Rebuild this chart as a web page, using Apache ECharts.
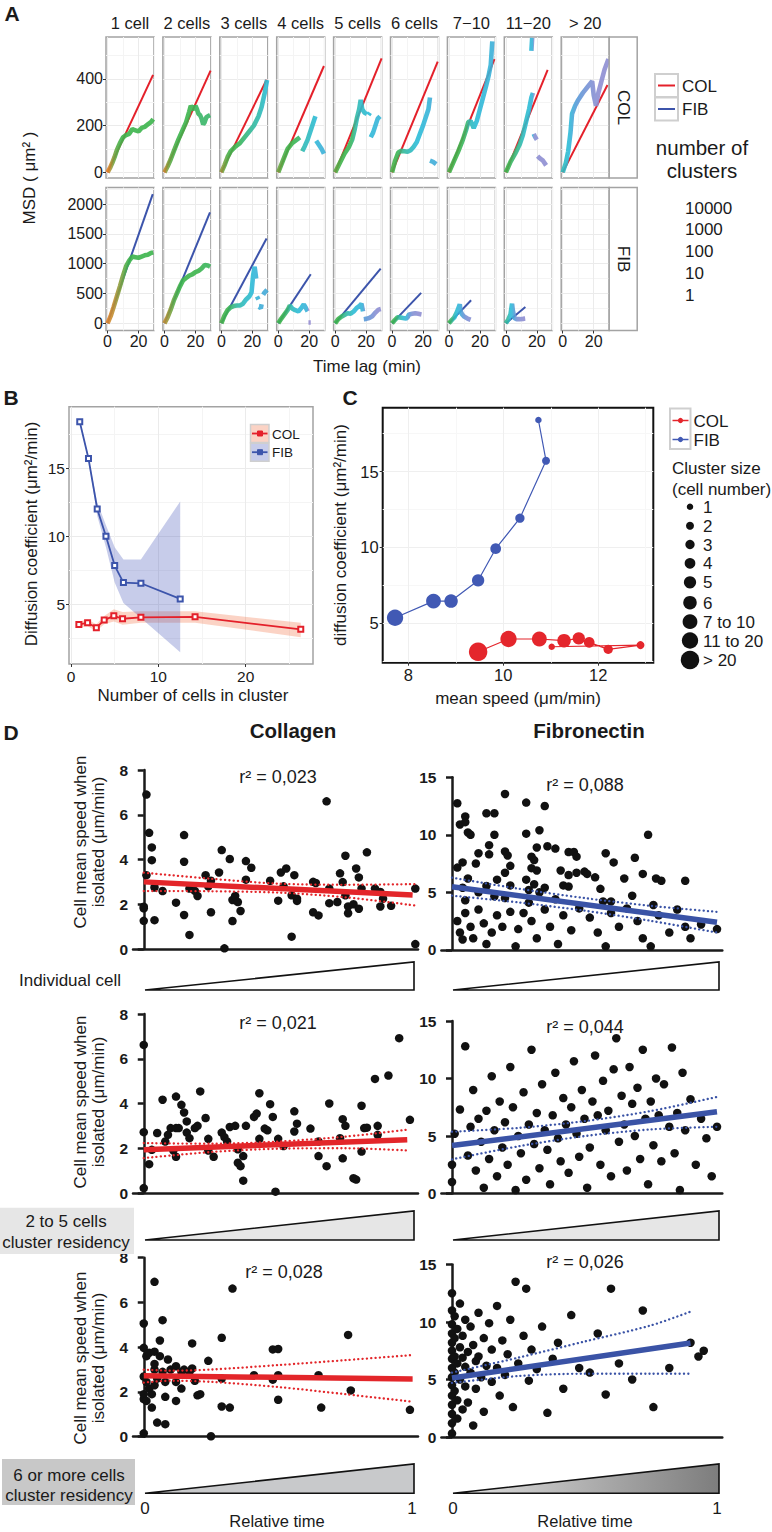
<!DOCTYPE html>
<html>
<head>
<meta charset="utf-8">
<script src="https://cdn.jsdelivr.net/npm/echarts@6/dist/echarts.min.js"></script>
<style>html,body{margin:0;padding:0;background:#fff}#chart{width:772px;height:1532px}</style>
</head>
<body>
<div id="chart"></div>
<script>
// ================= DATA =================
// ---- Panel A : MSD vs time lag, faceted by cluster size
const facetLabels = ['1 cell','2 cells','3 cells','4 cells','5 cells','6 cells','7\u221210','11\u221220','> 20'];
const substrateLabels = ['COL','FIB'];
const clusterCountLabels = ['10000','1000','100','10','1'];
const aXTicks = [0, 20];
const aXMinor = [10, 30];
const aColYTicks = [0, 200, 400];
const aColYMinor = [100, 300, 500];
const aFibYTicks = [0, 500, 1000, 1500, 2000];
const aFibYMinor = [250, 750, 1250, 1750, 2250];
// linear fit end points (fit lines start at origin) [time lag, MSD]
const colFitEnd = [[29.4,417],[29.8,435],[29.2,396],[29.5,455],[30,488],[29.5,474],[29.4,484],[27,438],[28.9,374]];
const fibFitEnd = [[29.2,2168],[29.4,1860],[29.2,1423],[21,823],[29.4,919],[18.8,510],[14.3,387],[12.6,275],null];
// MSD curves: [time lag (min), MSD (um^2), log10(number of clusters)] ; null = gap
const colMSD = [
  [[0,0,4],[1.5,18,3.8],[3,40,3.5],[4.5,65,3.3],[6,95,3.15],[8,125,3.05],[10,150,3],[12,160,3],[14,165,3],[16,185,3],[18,180,3],[20,175,3],[22,190,3],[24,195,3],[26,205,3],[28,215,3],[29.5,228,3]],
  [[0,0,3.8],[2,25,3.4],[4,55,3.2],[6,90,3.1],[9,140,3],[12,185,3],[14,215,3],[16,260,3],[17,285,3],[18,275,2.95],[19,268,2.95],[20,285,2.9],[21,270,2.9],[22,250,2.85],[23,245,2.8],[24,230,2.8],[25,205,2.8],[26,215,2.8],[27,235,2.8],[28,240,2.8],[29.5,245,2.8]],
  [[0,0,3.5],[2,30,3.3],[4,65,3.1],[6,90,3],[9,110,3],[12,125,2.9],[15,150,2.7],[18,175,2.5],[21,200,2.4],[24,240,2.3],[26,280,2.2],[28,340,2.1],[29.5,395,2]],
  [[0,0,3.3],[3,50,3.1],[6,100,3],[9,125,3],[12,140,2.9],[14,150,2.7],null,[15.5,90,2.3],[17,110,2.2],[19,140,2.2],[21,180,2.1],[22.5,210,2.1],[24,240,2],null,[24.5,135,1.8],[26,120,1.8],[28,100,1.7],[29.5,80,1.7]],
  [[0,0,3.2],[3,40,3.05],[6,80,3],[9,110,2.9],[11,140,2.8],[12.5,180,2.5],[14,230,2.3],[15.5,270,2.2],[16.5,310,2.1],[17.5,270,2.1],[19,255,2.1],[20.5,250,2],null,[21.5,245,2],[22.5,255,2],null,[23,150,1.9],[24.5,170,1.9],[26,200,1.8],[27.5,230,1.8],[29,240,1.8]],
  [[0,0,3.1],[2,50,3],[4,85,2.9],[6,92,2.6],[8,90,2.4],[10,88,2.3],[12,95,2.2],[14,110,2.1],[16,130,2],[18,165,2],[20,200,1.9],[22,240,1.8],[23.5,270,1.8],[24.5,320,1.7],null,[24.5,50,1.6],[26.5,45,1.6],[28.5,35,1.5]],
  [[0,0,3.1],[3,45,3],[6,90,3],[9,140,2.9],[11,180,2.8],[12.5,215,2.4],[14,220,2.2],[16,190,2.1],[18,220,2],[20,270,1.9],[22,320,1.9],[24,370,1.8],[25.5,410,1.8],[27,460,1.7],[27.5,510,1.7],[28,560,1.6]],
  [[0,0,3],[3,45,2.9],[6,80,2.7],[9,120,2.4],[11,160,2.2],[13,215,2.1],[15,270,2],[16.5,320,1.9],[17.5,340,1.9],null,[16.5,520,1.7],[17,575,1.7],null,[18,165,0.4],[19,150,0.4],[20,140,0.4],null,[20.5,70,0.3],[22,60,0.3],[24,50,0.3],[26,30,0.3]],
  [[0,0,2.2],[2,40,2.1],[3.5,90,2],[5,170,1.8],[6,250,1.6],[8,285,1.2],[10,310,1],[13,340,0.8],[16,365,0.6],[19,390,0.5],[20,330,0.4],[21.5,285,0.4],[23,340,0.3],[25,390,0.3],[27,440,0.3],[29.5,485,0.3]]
];
const fibMSD = [
  [[0,0,4],[2,120,3.9],[4,280,3.8],[6,450,3.6],[8,620,3.45],[10,800,3.3],[12,960,3.1],[14,1050,3],[16,1120,3],[18,1110,3],[20,1100,3],[22,1120,3],[24,1140,3],[26,1150,3],[28,1180,3],[29.5,1190,3]],
  [[0,0,3.8],[2,100,3.6],[4,230,3.4],[6,380,3.2],[8,500,3.1],[10,620,3],[12,720,3],[14,760,3],[16,800,3],[18,820,3],[20,860,3],[22,880,3],[24,920,2.95],[26,980,2.9],[28,970,2.9],[29.5,950,2.9]],
  [[0,0,3.1],[2,130,3],[4,220,3],[6,270,2.8],[8,290,2.6],[10,300,2.4],[12,300,2.3],[14,330,2.2],[16,400,2.1],[18,450,2.1],[19.5,520,2],[20.5,800,1.9],[21.5,950,1.8],[22.5,750,1.8],null,[23,450,1.7],[24,400,1.7],null,[24.5,280,1.6],[25.5,250,1.6],[26,320,1.6],null,[27,480,1.5],[28,520,1.5],[29.5,560,1.5]],
  [[0,0,3],[2,80,3],[4,150,2.9],[6,220,2.7],[7.5,300,2.4],[9,250,2.2],[11,220,2.1],[13,200,2],[15,260,1.9],[16.5,320,1.8],[18,250,1.7],[19,200,1.6],null,[19.5,15,0.2],[21,15,0.2]],
  [[0,0,3],[2,70,3],[4,110,2.8],[6,140,2.5],[8,170,2.3],[10,160,2.2],[12,200,2],[14,260,1.9],[16,300,1.8],[17,330,1.8],[18,200,1.7],null,[18.5,70,1.1],[20,75,1],[22,90,0.8],[24,120,0.6],[26,180,0.4],[28,230,0.3],[29.5,240,0.3]],
  [[0,0,3],[2,60,2.9],[3.5,100,2.6],[5,100,2.3],[7,90,2.1],[9,80,1.8],[10,100,1.5],[11,150,1],[13,160,0.5],[15,170,0.4],[17,160,0.3],[19,150,0.3]],
  [[0,0,3],[2,60,2.6],[3.5,100,2.2],[5,180,2],[6,250,1.8],[7,320,1.7],[7.5,200,1.5],[8.5,150,1.2],[10,110,0.8],[12,80,0.5],[14,60,0.4]],
  [[0,0,2.5],[1.5,60,2.3],[3,150,2],[4,330,1.8],[4.5,220,1.6],[5.5,90,1.2],[7,70,0.6],[9,70,0.4],[11,75,0.3],[12.5,80,0.3]],
  []
];

// ---- Panel B : diffusion coefficient vs number of cells in cluster
const bXTicks = [0, 10, 20], bXMinor = [5, 15, 25];
const bYTicks = [5, 10, 15], bYMinor = [2.5, 7.5, 12.5, 17.5];
const bColN   = [0.9, 1.9, 2.9, 3.8, 4.9, 5.9, 8, 14.2, 26.3];
const bColD   = [3.53, 3.65, 3.29, 3.85, 4.16, 3.95, 4.05, 4.09, 3.17];
const bColLo  = [3.3, 3.4, 3.05, 3.55, 3.75, 3.5, 3.65, 3.65, 2.6];
const bColHi  = [3.75, 3.9, 3.55, 4.15, 4.65, 4.45, 4.5, 4.5, 3.65];
const bFibN   = [1, 2, 3, 4, 5, 6, 8, 12.5];
const bFibD   = [18.4, 15.7, 12.0, 10.0, 7.85, 6.6, 6.55, 5.4];
const bFibLo  = [18.3, 15.6, 11.5, 9.2, 6.6, 5.1, 4.0, 1.5];
const bFibHi  = [18.5, 15.8, 12.5, 10.8, 9.2, 8.3, 8.3, 12.55];

// ---- Panel C : diffusion coefficient vs mean speed
const cXTicks = [8, 10, 12], cXMinor = [9, 11, 13];
const cYTicks = [5, 10, 15], cYMinor = [2.5, 7.5, 12.5, 17.5];
const clusterSizeLabels = ['1','2','3','4','5','6','7 to 10','11 to 20','> 20'];
const cColSpeed = [11.02, 12.89, 12.21, 11.81, 11.59, 11.28, 10.76, 10.11, 9.47];
const cColDiff  = [3.46, 3.57, 3.29, 3.75, 4.01, 3.86, 3.97, 3.97, 3.13];
const cColClass = [0, 1, 2, 3, 4, 5, 6, 7, 8];
const cFibSpeed = [10.74, 10.9, 10.35, 9.84, 9.47, 8.9, 8.53, 7.72];
const cFibDiff  = [18.4, 15.72, 11.93, 9.92, 7.83, 6.47, 6.47, 5.37];
const cFibClass = [0, 1, 2, 3, 4, 5, 6, 7];

// ---- Panel D : cell mean speed when isolated vs relative time
const dColYTicks = [0, 2, 4, 6, 8];
const dFibYTicks = [0, 5, 10, 15];
const rSquared = ['0,023', '0,088', '0,021', '0,044', '0,028', '0,026'];
const rowLabels = ['Individual cell', '2 to 5 cells\ncluster residency', '6 or more cells\ncluster residency'];
const dColIndiv = [[0.01,6.9],[0.02,5.19],[0.03,4.54],[0.03,3.97],[0.01,3.3],[0.04,2.75],[0.07,2.59],[0,1.89],[0,1.82],[0,1.26],[0.04,1.29],[0.15,5.09],[0.15,3.9],[0.12,2.07],[0.17,2.7],[0.19,2.6],[0.2,2.37],[0.15,1.52],[0.17,0.63],[0.23,3.3],[0.24,2.8],[0.25,3.05],[0.25,1.64],[0.28,3.42],[0.29,4.42],[0.3,0.03],[0.32,4.02],[0.33,1.25],[0.33,2.19],[0.34,2.37],[0.35,2.1],[0.36,1.7],[0.38,3.93],[0.38,3.1],[0.4,3.63],[0.47,3.05],[0.5,2.16],[0.51,3.42],[0.53,3.6],[0.52,2.8],[0.55,0.55],[0.56,3.3],[0.55,2.4],[0.57,2.25],[0.57,2.15],[0.63,3.0],[0.63,1.64],[0.64,2.95],[0.65,1.5],[0.68,6.6],[0.69,2.7],[0.69,2.05],[0.72,2.1],[0.73,3.38],[0.74,2.99],[0.75,4.17],[0.75,2.4],[0.76,1.9],[0.76,1.6],[0.78,2.0],[0.79,3.6],[0.8,3.2],[0.8,1.8],[0.81,2.7],[0.83,4.32],[0.86,2.7],[0.88,2.55],[0.88,1.9],[0.89,2.25],[0.92,1.93],[1.01,2.7],[1.01,0.22]];
const dColPair = [[0,6.62],[0,2.72],[0,0.22],[0.03,1.93],[0.02,1.29],[0.05,2.68],[0.07,4.17],[0.08,2.3],[0.09,2.6],[0.1,2.9],[0.12,4.31],[0.12,2.9],[0.11,1.9],[0.12,1.62],[0.13,2.9],[0.14,3.94],[0.15,3.6],[0.16,3.2],[0.16,2.7],[0.17,2.45],[0.19,2.9],[0.2,3.0],[0.21,4.54],[0.23,3.35],[0.24,2.42],[0.26,1.62],[0.24,1.9],[0.29,2.7],[0.3,2.5],[0.31,2.3],[0.32,2.95],[0.34,3.0],[0.35,1.95],[0.35,1.35],[0.36,1.2],[0.37,1.65],[0.37,0.55],[0.38,3.0],[0.41,3.4],[0.42,3.55],[0.43,4.46],[0.43,2.42],[0.45,2.88],[0.46,2.8],[0.47,3.97],[0.48,3.4],[0.49,0.06],[0.5,2.42],[0.52,2.1],[0.56,2.75],[0.56,3.65],[0.57,3.1],[0.62,2.88],[0.65,2.3],[0.65,1.65],[0.68,1.2],[0.69,4.0],[0.73,2.45],[0.74,1.55],[0.74,3.3],[0.75,3.0],[0.78,0.66],[0.79,0.6],[0.81,1.85],[0.81,3.9],[0.82,2.9],[0.83,2.92],[0.86,5.1],[0.87,2.6],[0.87,3.0],[0.91,5.25],[0.95,6.92],[0.99,3.27]];
const dColMulti = [[0,5.06],[0,3.97],[0,2.69],[0,1.9],[0,1.68],[0,0.15],[0.01,2.45],[0.02,2.15],[0.03,1.9],[0.01,1.6],[0.04,2.3],[0.05,2.6],[0.07,2.9],[0.08,2.45],[0.04,3.0],[0.01,3.6],[0.02,3.75],[0.03,1.3],[0.04,6.92],[0.07,5.21],[0.06,4.3],[0.04,3.8],[0.04,3.25],[0.06,3.6],[0.09,3.45],[0.1,3.0],[0.12,3.15],[0.14,2.9],[0.15,3.0],[0.17,2.9],[0.18,3.05],[0.18,4.17],[0.19,2.5],[0.08,1.78],[0.12,1.6],[0.12,2.45],[0.14,2.15],[0.2,1.85],[0.21,1.9],[0.05,0.63],[0.08,0.56],[0.24,3.39],[0.25,0.02],[0.29,4.42],[0.29,1.35],[0.32,1.3],[0.29,2.6],[0.33,6.62],[0.41,2.75],[0.48,2.55],[0.48,3.9],[0.5,3.92],[0.5,2.75],[0.5,1.65],[0.65,2.75],[0.66,1.3],[0.76,4.55],[0.77,2.07],[0.99,1.2]];
const dFibIndiv = [[0.02,12.74],[0.03,10.9],[0.05,11.6],[0.05,11.1],[0.06,10.2],[0.07,10.0],[0.02,7.15],[0.04,7.6],[0.09,7.5],[0.1,8.4],[0.06,6.2],[0.05,4.3],[0.04,5.4],[0.1,5.0],[0.13,11.87],[0.14,9.1],[0.14,8.3],[0.13,5.55],[0.16,11.87],[0.16,10.0],[0.16,4.65],[0.17,6.1],[0.2,13.55],[0.2,8.55],[0.21,8.2],[0.22,7.3],[0.2,6.7],[0.2,4.5],[0.22,5.6],[0.28,12.8],[0.28,10.1],[0.28,6.1],[0.29,5.2],[0.29,4.1],[0.3,7.1],[0.3,8.1],[0.31,7.8],[0.31,5.7],[0.32,8.9],[0.32,6.9],[0.33,10.4],[0.33,5.0],[0.35,5.4],[0.35,12.5],[0.36,9.0],[0.39,8.8],[0.39,4.4],[0.41,6.9],[0.42,5.6],[0.44,8.5],[0.44,6.5],[0.44,5.5],[0.46,8.5],[0.47,6.7],[0.47,8.1],[0.5,6.8],[0.51,6.6],[0.54,6.3],[0.56,5.3],[0.57,4.2],[0.58,8.4],[0.6,4.2],[0.61,7.6],[0.65,6.2],[0.68,4.7],[0.69,8.0],[0.72,6.6],[0.74,10.0],[0.76,3.9],[0.77,6.2],[0.79,6.0],[0.88,6.0],
  [0.02,2.5],[0.03,1.5],[0.04,0.9],[0.05,3.2],[0.07,2.0],[0.08,1.0],[0.1,3.5],[0.12,2.3],[0.13,0.5],[0.15,1.5],[0.17,3.0],[0.19,2.0],[0.22,3.3],[0.24,0.3],[0.25,1.8],[0.27,3.2],[0.3,2.5],[0.32,1.0],[0.35,3.5],[0.37,2.0],[0.4,0.5],[0.42,3.0],[0.45,1.7],[0.48,3.6],[0.52,2.8],[0.55,1.5],[0.58,0.3],[0.6,3.2],[0.63,2.0],[0.66,3.6],[0.7,2.5],[0.72,1.0],[0.75,0.3],[0.78,3.0],[0.82,1.5],[0.85,3.5],[0.88,2.0],[0.9,1.0],[0.94,2.2],[1.0,1.8]];
const dFibPair = [[0,2.5],[0,1.0],[0.01,5.2],[0.03,7.3],[0.05,12.8],[0.06,3.3],[0.07,5.8],[0.08,9.0],[0.09,2.0],[0.1,6.5],[0.11,4.5],[0.12,0.5],[0.13,7.2],[0.14,3.0],[0.15,10.2],[0.16,5.5],[0.17,1.5],[0.18,8.0],[0.19,4.0],[0.2,6.2],[0.21,2.5],[0.22,11.0],[0.23,7.5],[0.24,0.3],[0.25,5.0],[0.26,3.5],[0.27,8.8],[0.28,1.2],[0.29,6.0],[0.3,12.5],[0.31,4.3],[0.32,7.0],[0.33,2.2],[0.34,9.5],[0.35,5.5],[0.36,3.8],[0.37,0.8],[0.38,6.8],[0.39,10.5],[0.4,4.8],[0.41,2.8],[0.42,8.3],[0.43,6.0],[0.44,1.8],[0.45,7.5],[0.46,11.5],[0.47,5.2],[0.48,3.2],[0.49,9.0],[0.5,6.5],[0.51,0.5],[0.52,4.0],[0.53,8.0],[0.54,12.0],[0.55,6.8],[0.56,2.5],[0.57,9.8],[0.58,5.5],[0.59,7.2],[0.6,1.5],[0.61,10.8],[0.62,13.5],[0.63,4.5],[0.64,8.5],[0.65,6.0],[0.66,2.0],[0.67,11.0],[0.68,7.8],[0.69,5.0],[0.7,9.2],[0.71,3.0],[0.72,12.5],[0.73,6.5],[0.74,0.8],[0.75,8.0],[0.76,4.2],[0.77,10.0],[0.78,6.8],[0.79,2.8],[0.8,9.5],[0.82,5.8],[0.83,12.7],[0.84,3.5],[0.85,7.0],[0.86,0.3],[0.87,10.5],[0.88,5.5],[0.9,8.2],[0.92,2.5],[0.94,6.5],[0.96,4.8],[0.98,1.5],[1.0,5.8]];
const dFibMulti = [[0,12.5],[0,11.0],[0,9.8],[0,9.0],[0,8.2],[0,7.5],[0,6.8],[0,6.0],[0,5.2],[0,4.5],[0,3.6],[0,2.8],[0,2.0],[0,1.2],[0,0.3],[0.01,10.5],[0.01,8.6],[0.01,7.0],[0.01,5.6],[0.01,4.0],[0.02,9.4],[0.02,6.4],[0.02,3.2],[0.02,1.6],[0.03,11.6],[0.03,7.8],[0.03,5.0],[0.04,8.8],[0.04,6.9],[0.04,2.4],[0.05,10.2],[0.05,6.1],[0.05,4.4],[0.06,7.4],[0.06,3.0],[0.07,9.6],[0.07,5.6],[0.08,8.0],[0.08,1.0],[0.09,6.6],[0.09,4.2],[0.1,10.8],[0.1,7.0],[0.11,5.2],[0.12,8.6],[0.12,2.2],[0.13,6.2],[0.14,9.9],[0.15,7.6],[0.15,4.8],[0.17,11.4],[0.17,6.0],[0.18,3.6],[0.19,8.4],[0.2,5.4],[0.21,7.2],[0.22,10.2],[0.23,2.6],[0.24,13.5],[0.25,6.4],[0.27,8.8],[0.28,12.9],[0.29,4.9],[0.3,7.6],[0.32,5.9],[0.34,9.6],[0.36,2.1],[0.38,6.8],[0.4,8.2],[0.42,4.2],[0.45,10.6],[0.48,6.0],[0.52,5.6],[0.55,9.0],[0.58,3.7],[0.6,12.9],[0.63,6.4],[0.68,5.0],[0.72,11.0],[0.76,2.6],[0.82,6.0],[0.9,8.2],[0.93,7.0],[0.95,7.5]];
// regression fits and 95% confidence bands [relative time, speed]
const dColIndivFit = [[0,3.0],[1.0,2.41]];
const dColIndivUp  = [[0,3.41],[0.25,3.14],[0.5,2.92],[0.75,2.87],[1.02,2.9]];
const dColIndivLo  = [[0,2.59],[0.25,2.58],[0.5,2.52],[0.75,2.31],[1.02,1.93]];
const dFibIndivFit = [[0,5.49],[1.0,2.4]];
const dFibIndivUp  = [[0,6.27],[0.25,5.32],[0.5,4.5],[0.75,3.82],[1.0,3.3]];
const dFibIndivLo  = [[0,4.71],[0.25,4.12],[0.5,3.4],[0.75,2.52],[1.0,1.5]];
const dColPairFit  = [[0,1.93],[0.98,2.38]];
const dColPairUp   = [[0,2.23],[0.25,2.2],[0.5,2.3],[0.75,2.52],[0.98,2.83]];
const dColPairLo   = [[0,1.56],[0.25,1.83],[0.5,1.98],[0.75,2.0],[0.98,1.9]];
const dFibPairFit  = [[0,4.17],[1.0,7.1]];
const dFibPairUp   = [[0,5.37],[0.25,5.7],[0.5,6.29],[0.75,7.17],[1.0,8.4]];
const dFibPairLo   = [[0,2.97],[0.25,4.1],[0.5,4.99],[0.75,5.57],[1.0,5.8]];
const dColMultiFit = [[0,2.72],[1.0,2.58]];
const dColMultiUp  = [[0,3.0],[0.1,2.95],[0.25,3.0],[0.5,3.2],[0.75,3.42],[1.0,3.65]];
const dColMultiLo  = [[0,2.42],[0.1,2.5],[0.25,2.45],[0.5,2.22],[0.75,1.9],[1.0,1.56]];
const dFibMultiFit = [[0,5.13],[0.9,8.17]];
const dFibMultiUp  = [[0,5.6],[0.25,6.9],[0.5,8.3],[0.75,9.7],[0.9,10.9]];
const dFibMultiLo  = [[0,4.7],[0.25,5.3],[0.5,5.5],[0.75,5.5],[0.9,5.5]];

// ================= BUILD =================
const FONT = '"Liberation Sans", Arial, Helvetica, sans-serif';
const RED = '#e4202a', BLUE = '#3c54ab';
const grids = [], xAxes = [], yAxes = [], series = [], gfx = [];

function txt(x, y, text, size, o) {
  o = o || {};
  const al = o.align || 'center', va = o.va || 'middle';
  return {type:'text', x:x, y:y, rotation:o.rot || 0, silent:true, z:100,
    style:{text:text, fontSize:size, fontFamily:FONT, fontWeight:o.bold ? 'bold' : 'normal',
      fill:o.color || '#1a1a1a', align:al, verticalAlign:va, textAlign:al, textVerticalAlign:va,
      lineHeight:o.lh}};
}
function addGrid(r) {
  grids.push({left:r.left, top:r.top, width:r.width, height:r.height, show:!!r.border,
    borderColor:r.border || 'transparent', borderWidth:r.bw || 1, backgroundColor:'transparent'});
  return grids.length - 1;
}
// ggplot-like axis: major labels/ticks/grid + invisible companion axis for minor grid
function addGgAxis(dim, gi, o) {
  const arr = dim === 'x' ? xAxes : yAxes;
  const idx = arr.length;
  arr.push({type:'value', gridIndex:gi, min:o.min, max:o.max, position:dim === 'x' ? 'bottom' : 'left',
    axisLine:{show:false, onZero:false},
    axisTick:{show:!!o.show, customValues:o.major, length:3, lineStyle:{color:'#333', width:1}},
    axisLabel:{show:!!o.show, customValues:o.major, fontSize:o.fs, fontFamily:FONT, color:'#1a1a1a',
      margin:o.margin || 4, formatter:v => String(v)},
    splitLine:{show:true, lineStyle:{color:o.gc || '#ebebeb', width:1}}});
  if (o.minor) {
    arr.push({type:'value', gridIndex:gi, min:o.min, max:o.max, position:dim === 'x' ? 'top' : 'right',
      axisLine:{show:false, onZero:false}, axisTick:{show:false, customValues:o.minor},
      axisLabel:{show:false}, splitLine:{show:true, lineStyle:{color:o.mc || '#f4f4f4', width:1}}});
  }
  return idx;
}

// cluster count colour scale (log10 count -> colour)
const clusterPalette = [[163,138,208],[92,152,216],[44,188,216],[60,180,76],[224,134,44]];
function clusterColor(v) {
  v = Math.max(0, Math.min(4, v));
  const i = Math.min(3, Math.floor(v)), f = v - i;
  const c = clusterPalette[i].map((a, k) => Math.round(a + (clusterPalette[i + 1][k] - a) * f));
  return 'rgb(' + c.join(',') + ')';
}
function msdGradient(pts) {
  const v = pts.filter(p => p);
  const t0 = Math.min.apply(null, v.map(p => p[0])), t1 = Math.max.apply(null, v.map(p => p[0]));
  const stops = v.map(p => ({offset:(p[0] - t0) / ((t1 - t0) || 1), color:clusterColor(p[2])}))
    .sort((a, b) => a.offset - b.offset);
  return {type:'linear', x:0, y:0, x2:1, y2:0, colorStops:stops};
}

// ---------- Panel A ----------
const A_LEFT0 = 106, A_STEP = 56.9, A_W = 48;
const aRows = [
  {top:37, h:141, min:-24, max:579, major:aColYTicks, minor:aColYMinor, fit:colFitEnd, msd:colMSD, color:RED},
  {top:187.5, h:143, min:-120, max:2278, major:aFibYTicks, minor:aFibYMinor, fit:fibFitEnd, msd:fibMSD, color:BLUE}
];
aRows.forEach((row, r) => {
  for (let c = 0; c < 9; c++) {
    const left = A_LEFT0 + A_STEP * c;
    const gi = addGrid({left:left, top:row.top, width:A_W, height:row.h, border:'#a3a3a3', bw:1.5});
    const xi = addGgAxis('x', gi, {min:-1, max:30, major:aXTicks, minor:aXMinor, show:r === 1, fs:16, margin:3});
    const yi = addGgAxis('y', gi, {min:row.min, max:row.max, major:row.major, minor:row.minor, show:c === 0, fs:16, margin:3});
    if (row.fit[c]) {
      series.push({type:'line', xAxisIndex:xi, yAxisIndex:yi, data:[[0,0], row.fit[c]], symbol:'none',
        lineStyle:{color:row.color, width:2}, silent:true, z:2});
    }
    const pts = row.msd[c];
    if (pts.length) {
      series.push({type:'line', xAxisIndex:xi, yAxisIndex:yi, symbol:'none', connectNulls:false,
        data:pts.map(p => p ? [p[0], p[1]] : ['-', '-']),
        lineStyle:{width:4.6, color:msdGradient(pts), opacity:0.9}, silent:true, z:3});
    }
  }
  // right strip
  const sx = A_LEFT0 + A_STEP * 8 + A_W;
  gfx.push({type:'rect', shape:{x:sx, y:row.top, width:28, height:row.h}, style:{fill:'#fff', stroke:'#a3a3a3', lineWidth:1.5}, silent:true, z:50});
  gfx.push(txt(sx + 14, row.top + row.h / 2, substrateLabels[r], 17, {rot:-Math.PI / 2}));
});
facetLabels.forEach((l, c) => gfx.push(txt(A_LEFT0 + A_STEP * c + A_W / 2, 23, l, 16.5)));
gfx.push(txt(12, 13, 'A', 21, {bold:true}));
gfx.push(txt(29, 178, 'MSD ( \u03bcm\u00b2 )', 17, {rot:Math.PI / 2}));
gfx.push(txt(367, 366, 'Time lag (min)', 17));
// legend A
[RED, BLUE].forEach((col, i) => {
  const y0 = 74 + i * 23.5;
  gfx.push({type:'rect', shape:{x:655, y:y0, width:23, height:23}, style:{fill:'#fff', stroke:'#cfcfcf', lineWidth:2}, silent:true, z:50});
  gfx.push({type:'line', shape:{x1:658, y1:y0 + 11.5, x2:675, y2:y0 + 11.5}, style:{stroke:col, lineWidth:2}, silent:true, z:51});
  gfx.push(txt(682, y0 + 12, substrateLabels[i], 17, {align:'left'}));
});
gfx.push(txt(702, 147, 'number of', 20.5));
gfx.push(txt(702, 170, 'clusters', 20.5));
clusterCountLabels.forEach((l, i) => gfx.push(txt(685, 208 + i * 21.8, l, 17, {align:'left'})));

// ---------- Panel B ----------
function ribbon(xi, yi, xs, lo, hi, fill) {
  return {type:'custom', xAxisIndex:xi, yAxisIndex:yi, silent:true, z:1, data:[[xs[0], lo[0]]],
    renderItem:function (params, api) {
      const top = xs.map((x, i) => api.coord([x, hi[i]]));
      const bot = xs.map((x, i) => api.coord([x, lo[i]])).reverse();
      return {type:'polygon', shape:{points:top.concat(bot)}, style:{fill:fill, stroke:'none'}};
    }};
}
{
  const gi = addGrid({left:69, top:406.7, width:244, height:257.3, border:'#a3a3a3', bw:1.5});
  const xi = addGgAxis('x', gi, {min:-0.23, max:27.7, major:bXTicks, minor:bXMinor, show:true, fs:15.5, margin:4});
  const yi = addGgAxis('y', gi, {min:0.63, max:19.5, major:bYTicks, minor:bYMinor, show:true, fs:15.5, margin:4});
  series.push(ribbon(xi, yi, bColN, bColLo, bColHi, 'rgba(242,120,80,0.33)'));
  series.push(ribbon(xi, yi, bFibN, bFibLo, bFibHi, 'rgba(70,85,185,0.30)'));
  series.push({type:'line', xAxisIndex:xi, yAxisIndex:yi, data:bColN.map((x, i) => [x, bColD[i]]),
    symbol:'emptyRect', symbolSize:5, lineStyle:{color:RED, width:1.8}, itemStyle:{color:RED, borderWidth:1}, silent:true, z:3});
  series.push({type:'line', xAxisIndex:xi, yAxisIndex:yi, data:bFibN.map((x, i) => [x, bFibD[i]]),
    symbol:'emptyRect', symbolSize:5, lineStyle:{color:BLUE, width:1.8}, itemStyle:{color:BLUE, borderWidth:1}, silent:true, z:3});
}
gfx.push(txt(11, 397, 'B', 21, {bold:true}));
gfx.push(txt(31, 534, 'Diffusion coefficient (\u03bcm\u00b2/min)', 17, {rot:Math.PI / 2}));
gfx.push(txt(193, 695, 'Number of cells in cluster', 17));
[['rgba(242,120,80,0.33)', RED], ['rgba(70,85,185,0.30)', BLUE]].forEach((k, i) => {
  const y0 = 424.5 + i * 18.7;
  gfx.push({type:'rect', shape:{x:250.5, y:y0, width:18.5, height:18}, style:{fill:k[0], stroke:'#cfcfcf', lineWidth:1.5}, silent:true, z:50});
  gfx.push({type:'line', shape:{x1:252, y1:y0 + 9, x2:267.5, y2:y0 + 9}, style:{stroke:k[1], lineWidth:1.8}, silent:true, z:51});
  gfx.push({type:'rect', shape:{x:257.5, y:y0 + 6.5, width:5, height:5}, style:{fill:k[1], stroke:k[1]}, silent:true, z:52});
  gfx.push(txt(272, y0 + 9.5, substrateLabels[i], 13.5, {align:'left'}));
});

// ---------- Panel C ----------
const cSymbolSizes = [6.5, 8, 9.3, 10.7, 12.3, 13.5, 14.8, 16.3, 18.5];
{
  const gi = addGrid({left:382.7, top:407.7, width:270.6, height:255, border:'#111', bw:2});
  const xi = addGgAxis('x', gi, {min:7.46, max:13.16, major:cXTicks, minor:cXMinor, show:true, fs:16.5, margin:4, gc:'#efefef', mc:'#f7f7f7'});
  const yi = addGgAxis('y', gi, {min:2.41, max:19.21, major:cYTicks, minor:cYMinor, show:true, fs:16.5, margin:4, gc:'#efefef', mc:'#f7f7f7'});
  series.push({type:'line', xAxisIndex:xi, yAxisIndex:yi, data:cColSpeed.map((x, i) => [x, cColDiff[i], cColClass[i]]),
    symbol:'circle', symbolSize:v => cSymbolSizes[v[2]], lineStyle:{color:'#e4262c', width:1.2},
    itemStyle:{color:'#e4262c'}, silent:true, z:3});
  series.push({type:'line', xAxisIndex:xi, yAxisIndex:yi, data:cFibSpeed.map((x, i) => [x, cFibDiff[i], cFibClass[i]]),
    symbol:'circle', symbolSize:v => cSymbolSizes[v[2]], lineStyle:{color:'#4159b4', width:1.2},
    itemStyle:{color:'#4159b4'}, silent:true, z:3});
}
gfx.push(txt(350, 397, 'C', 21, {bold:true}));
gfx.push(txt(340, 535, 'diffusion coefficient (\u03bcm\u00b2/min)', 17, {rot:Math.PI / 2}));
gfx.push(txt(518, 698, 'mean speed (\u03bcm/min)', 17));
gfx.push({type:'rect', shape:{x:670, y:408.5, width:20.5, height:40.5}, style:{fill:'#fff', stroke:'#cfcfcf', lineWidth:2}, silent:true, z:50});
[['#e4262c', 420.5], ['#4159b4', 439.5]].forEach((k, i) => {
  gfx.push({type:'line', shape:{x1:672.5, y1:k[1], x2:688.5, y2:k[1]}, style:{stroke:k[0], lineWidth:1.5}, silent:true, z:51});
  gfx.push({type:'circle', shape:{cx:680.5, cy:k[1], r:2.6}, style:{fill:k[0]}, silent:true, z:52});
  gfx.push(txt(693.5, k[1] + 0.5, substrateLabels[i], 17, {align:'left'}));
});
gfx.push(txt(672, 468, 'Cluster size', 17, {align:'left'}));
gfx.push(txt(672, 489, '(cell number)', 17, {align:'left'}));
const cLegendY = [506.7, 525.7, 544.5, 563.3, 582.3, 602.7, 621.7, 640.5, 660];
clusterSizeLabels.forEach((l, i) => {
  gfx.push({type:'circle', shape:{cx:690, cy:cLegendY[i], r:cSymbolSizes[i] / 2}, style:{fill:'#111'}, silent:true, z:50});
  gfx.push(txt(703, cLegendY[i] + 0.5, l, 17, {align:'left'}));
});

// ---------- Panel D ----------
const dCols = [
  {left:133, width:285, ymax:8, interval:2, ticks:dColYTicks, color:'#e3262a', tops:[770, 1014, 1257.7], h:179},
  {left:441.4, width:280.9, ymax:15, interval:5, ticks:dFibYTicks, color:'#3a53a6', tops:[777.3, 1021, 1264.5], h:172.5}
];
const dData = [
  [{pts:dColIndiv, fit:dColIndivFit, up:dColIndivUp, lo:dColIndivLo}, {pts:dFibIndiv, fit:dFibIndivFit, up:dFibIndivUp, lo:dFibIndivLo}],
  [{pts:dColPair, fit:dColPairFit, up:dColPairUp, lo:dColPairLo}, {pts:dFibPair, fit:dFibPairFit, up:dFibPairUp, lo:dFibPairLo}],
  [{pts:dColMulti, fit:dColMultiFit, up:dColMultiUp, lo:dColMultiLo}, {pts:dFibMulti, fit:dFibMultiFit, up:dFibMultiUp, lo:dFibMultiLo}]
];
dData.forEach((row, r) => {
  row.forEach((d, c) => {
    const col = dCols[c];
    const gi = addGrid({left:col.left, top:col.tops[r], width:col.width, height:col.h});
    const xi = xAxes.length;
    xAxes.push({type:'value', gridIndex:gi, min:-0.04, max:1.02,
      axisLine:{show:true, onZero:true, lineStyle:{color:'#1a1a1a', width:2.5}},
      axisTick:{show:false}, axisLabel:{show:false}, splitLine:{show:false}});
    const yi = yAxes.length;
    yAxes.push({type:'value', gridIndex:gi, min:0, max:col.ymax, interval:col.interval,
      axisLine:{show:true, onZero:true, lineStyle:{color:'#1a1a1a', width:2.5}},
      axisTick:{show:true, length:6, customValues:col.ticks, lineStyle:{color:'#1a1a1a', width:2.5}},
      axisLabel:{show:true, customValues:col.ticks, fontSize:15.5, fontWeight:'bold', fontFamily:FONT, color:'#1a1a1a', margin:5},
      splitLine:{show:false}});
    series.push({type:'scatter', xAxisIndex:xi, yAxisIndex:yi, data:d.pts, symbolSize:8.5,
      itemStyle:{color:'#111', opacity:1}, silent:true, z:2});
    [d.up, d.lo].forEach(ci => series.push({type:'line', xAxisIndex:xi, yAxisIndex:yi, data:ci, symbol:'none',
      smooth:0.3, lineStyle:{color:col.color, width:2.3, type:[0.1, 4.2], cap:'round'}, silent:true, z:3}));
    series.push({type:'line', xAxisIndex:xi, yAxisIndex:yi, data:d.fit, symbol:'none',
      lineStyle:{color:col.color, width:5.5}, silent:true, z:4});
  });
});
gfx.push(txt(11, 732, 'D', 21, {bold:true}));
gfx.push(txt(293, 730, 'Collagen', 20.5, {bold:true}));
gfx.push(txt(589, 730, 'Fibronectin', 20.5, {bold:true}));
const rPos = [[278, 777], [585, 785], [278, 1023], [585, 1027], [284, 1272], [585, 1262]];
rSquared.forEach((v, i) => gfx.push(txt(rPos[i][0], rPos[i][1], 'r\u00b2 = ' + v, 18)));
[842, 1102, 1358].forEach(cy => gfx.push(txt(89, cy, 'Cell mean speed when\nisolated (\u03bcm/min)', 17, {rot:Math.PI / 2, lh:18})));
// triangles (relative time wedges)
const triRows = [{y0:962, y1:990, fills:['#ffffff', '#ffffff']}, {y0:1211, y1:1240, fills:['#e6e6e6', '#e6e6e6']}, {y0:1464, y1:1493.3, fills:['#c8c9cb', 'grad']}];
triRows.forEach(t => {
  [[145, 414], [453, 719]].forEach((xs, c) => {
    let fill = t.fills[c];
    if (fill === 'grad') fill = {type:'linear', x:0, y:0, x2:1, y2:0, colorStops:[{offset:0, color:'#e2e2e2'}, {offset:1, color:'#7d7d7d'}]};
    gfx.push({type:'polygon', shape:{points:[[xs[0], t.y1], [xs[1], t.y0], [xs[1], t.y1]]}, style:{fill:fill, stroke:'#111', lineWidth:1.6}, silent:true, z:50});
  });
});
gfx.push(txt(70, 980, rowLabels[0], 17));
gfx.push({type:'rect', shape:{x:0, y:1207.7, width:134, height:46.3}, style:{fill:'#e6e6e6'}, silent:true, z:40});
gfx.push(txt(66, 1232, rowLabels[1], 17, {lh:20.5}));
gfx.push({type:'rect', shape:{x:2, y:1459, width:133, height:46}, style:{fill:'#c8c8c8'}, silent:true, z:40});
gfx.push(txt(69, 1485, rowLabels[2], 17, {lh:20}));
[[145, 412, 277], [453, 717, 585]].forEach(p => {
  gfx.push(txt(p[0], 1508, '0', 17));
  gfx.push(txt(p[1], 1508, '1', 17));
  gfx.push(txt(p[2], 1521, 'Relative time', 16.5));
});

const chart = echarts.init(document.getElementById('chart'), null, {renderer:'svg', width:772, height:1532});
chart.setOption({
  animation:false, backgroundColor:'#ffffff',
  grid:grids, xAxis:xAxes, yAxis:yAxes, series:series,
  graphic:{elements:gfx}
});
</script>
</body>
</html>
